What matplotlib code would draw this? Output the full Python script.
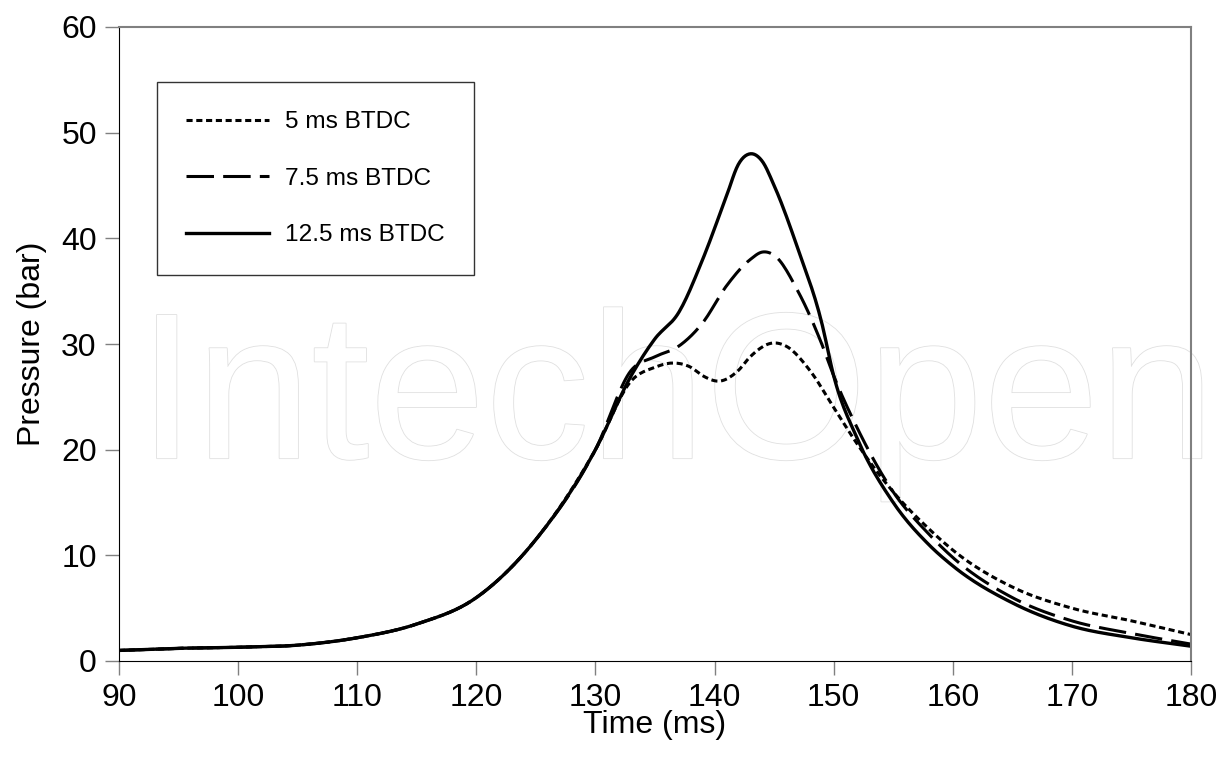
import matplotlib
matplotlib.use("Agg")
import matplotlib.pyplot as plt
import matplotlib.patheffects as pe
import numpy as np

plt.rcParams['font.family'] = ['Liberation Sans', 'DejaVu Sans']

t_125 = [90, 95, 100, 105, 110, 115, 120, 125, 130, 133, 135, 137, 139, 141, 142, 143, 144, 145, 147, 149, 150, 152, 155, 158, 160, 165, 170, 175, 180]
p_125 = [1.0, 1.2, 1.3, 1.5, 2.2, 3.5, 6.0, 11.5, 20.0, 27.0, 30.5, 33.0, 38.0, 44.0, 47.0, 48.0, 47.3, 45.0, 39.0, 32.0, 27.0, 21.0, 15.0, 11.0, 9.0, 5.5, 3.3, 2.2, 1.4]
t_75 = [90, 95, 100, 105, 110, 115, 120, 125, 130, 133, 135, 137, 139, 141, 143, 144, 145, 147, 149, 150, 152, 155, 158, 160, 165, 170, 175, 180]
p_75 = [1.0, 1.2, 1.3, 1.5, 2.2, 3.5, 6.0, 11.5, 20.0, 27.5, 28.8, 29.8, 32.0, 35.5, 38.0, 38.7, 38.4, 35.0, 30.0, 27.0, 22.0, 16.0, 12.0, 9.8, 6.0, 3.8, 2.6, 1.6]
t_5 = [90, 95, 100, 105, 110, 115, 120, 125, 130, 133, 135, 136.5, 138, 139, 140.5, 142, 143, 145, 146, 148, 150, 152, 155, 158, 160, 165, 170, 175, 180]
p_5 = [1.0, 1.2, 1.3, 1.5, 2.2, 3.5, 6.0, 11.5, 20.0, 26.5, 27.8, 28.2, 27.8, 27.0, 26.5, 27.5, 28.8, 30.1, 29.8, 27.5, 24.0, 20.5, 16.0, 12.5, 10.5, 7.0, 5.0, 3.8, 2.5]

def smooth(x, y, n=600):
    x = np.asarray(x, float); y = np.asarray(y, float)
    m = np.gradient(y, x)
    xs = np.linspace(x[0], x[-1], n)
    i = np.clip(np.searchsorted(x, xs) - 1, 0, len(x) - 2)
    h = x[i + 1] - x[i]; s = (xs - x[i]) / h
    h00 = 2*s**3 - 3*s**2 + 1; h10 = s**3 - 2*s**2 + s
    h01 = -2*s**3 + 3*s**2; h11 = s**3 - s**2
    return xs, h00*y[i] + h10*h*m[i] + h01*y[i+1] + h11*h*m[i+1]

fig = plt.figure(figsize=(12.27, 7.58), dpi=100)
ax = fig.add_axes([119/1227, 1-661/758, 1072/1227, 634/758])

wm = ax.text(0.52, 0.405, 'IntechOpen', transform=ax.transAxes, fontsize=150, ha='center',
             va='center', color='white', zorder=0)
wm.set_path_effects([pe.withStroke(linewidth=1.2, foreground='#e0e0e0')])

x, y = smooth(t_5, p_5); ax.plot(x, y, color='black', lw=2.2, ls=(0, (2, 1.2)), label='5 ms BTDC')
x, y = smooth(t_75, p_75); ax.plot(x, y, color='black', lw=2.2, ls=(0, (9, 3)), label='7.5 ms BTDC')
x, y = smooth(t_125, p_125); ax.plot(x, y, color='black', lw=2.4, label='12.5 ms BTDC')

ax.set_xlim(90, 180); ax.set_ylim(0, 60)
ax.set_xticks(range(90, 181, 10)); ax.set_yticks(range(0, 61, 10))
ax.tick_params(labelsize=23, direction='out', length=10, width=1, color='#808080', pad=6)
for s in ['top', 'right']:
    ax.spines[s].set_color('#808080')
    ax.spines[s].set_linewidth(1.5)
ax.set_xlabel('Time (ms)', fontsize=23, labelpad=-2)
ax.set_ylabel('Pressure (bar)', fontsize=23, labelpad=10)
leg = ax.legend(loc='upper left', bbox_to_anchor=(38/1072, 1-55/634), fontsize=17.6,
                frameon=True, fancybox=False, edgecolor='black', handlelength=3.4,
                labelspacing=1.4, borderpad=1.2, handletextpad=0.65, borderaxespad=0)
leg.get_frame().set_linewidth(1)
fig.savefig('out.png', dpi=100)
